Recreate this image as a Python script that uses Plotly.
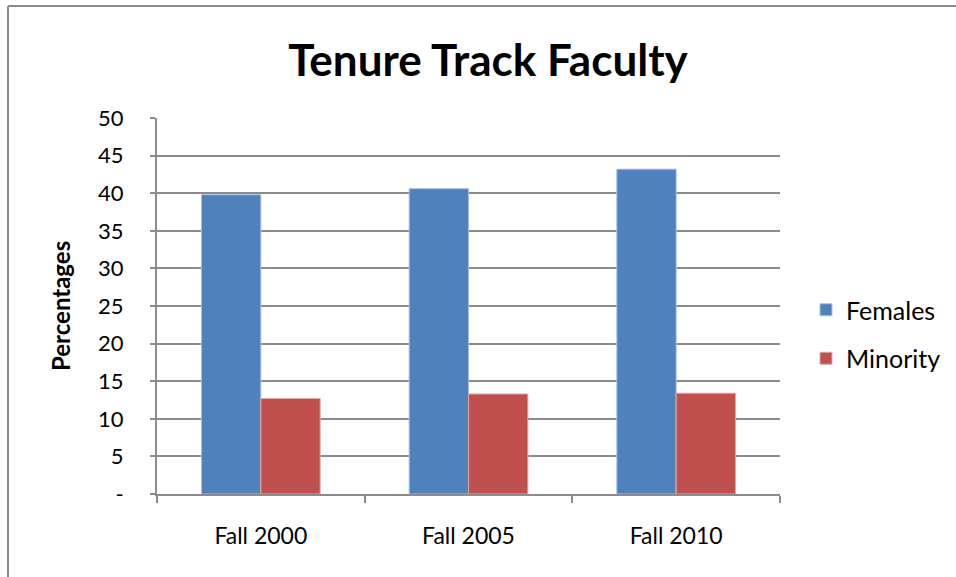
import plotly.graph_objects as go

# Data
categories = ["Fall 2000", "Fall 2005", "Fall 2010"]
females = [39.8, 40.6, 43.2]
minority = [12.7, 13.3, 13.4]
y_tick_vals = [0, 5, 10, 15, 20, 25, 30, 35, 40, 45, 50]
y_tick_text = ["-", "5", "10", "15", "20", "25", "30", "35", "40", "45", "50"]

W, H = 956, 577
L, R, T, B = 157, 176, 118, 83
PW, PH = W - L - R, H - T - B

GRID = "#8c8c8c"
FONT = "Lato"

fig = go.Figure()
fig.add_trace(go.Bar(
    x=categories, y=females, name="Females", legendgroup="f",
    marker=dict(color="#4F81BD", line=dict(color="#a7bfde", width=1)),
))
fig.add_trace(go.Bar(
    x=categories, y=minority, name="Minority", legendgroup="m",
    marker=dict(color="#C0504D", line=dict(color="#e0a8a6", width=1)),
))

def px_x(x):
    return (x - L) / PW

def px_y(y):
    return (H - B - y) / PH

fig.update_layout(
    width=W, height=H,
    margin=dict(l=L, r=R, t=T, b=B, autoexpand=False),
    paper_bgcolor="white", plot_bgcolor="white",
    barmode="group", bargap=0.4286, bargroupgap=0,
    font=dict(family=FONT, color="black"),
    title=dict(text="<b>Tenure Track Faculty</b>", x=px_x(488), xref="paper",
               xanchor="center", y=1 - 61 / H, yanchor="middle",
               font=dict(family=FONT, size=44, color="black")),
    xaxis=dict(
        showline=True, linecolor=GRID, linewidth=2,
        ticks="outside", ticklen=7, tickwidth=2, tickcolor=GRID,
        tickson="boundaries", showgrid=False,
        tickfont=dict(family=FONT, size=23, color="black"),
        ticklabelstandoff=20,
    ),
    yaxis=dict(
        range=[0, 50], tickvals=y_tick_vals, ticktext=y_tick_text,
        showline=True, linecolor=GRID, linewidth=2,
        ticks="outside", ticklen=5, tickwidth=2, tickcolor=GRID,
        showgrid=True, gridcolor=GRID, gridwidth=2,
        zeroline=False,
        tickfont=dict(family=FONT, size=22, color="black"),
        ticklabelstandoff=22,
    ),
    legend=dict(
        x=px_x(806), xanchor="left", y=px_y(334), yanchor="middle",
        font=dict(family=FONT, size=25, color="black"),
        traceorder="grouped", tracegroupgap=13,
        bgcolor="rgba(0,0,0,0)",
    ),
    showlegend=True,
    annotations=[dict(
        text="<b>Percentages</b>", textangle=-90,
        x=px_x(60), y=px_y(306), xref="paper", yref="paper",
        xanchor="center", yanchor="middle", showarrow=False,
        font=dict(family=FONT, size=24, color="black"),
    )],
    shapes=[
        dict(type="line", xref="paper", yref="paper",
             x0=px_x(8), x1=px_x(8), y0=px_y(6), y1=px_y(H + 5),
             line=dict(color=GRID, width=2)),
        dict(type="line", xref="paper", yref="paper",
             x0=px_x(8), x1=px_x(W + 5), y0=px_y(6), y1=px_y(6),
             line=dict(color=GRID, width=2)),
    ],
)

fig.write_html("out.html")
